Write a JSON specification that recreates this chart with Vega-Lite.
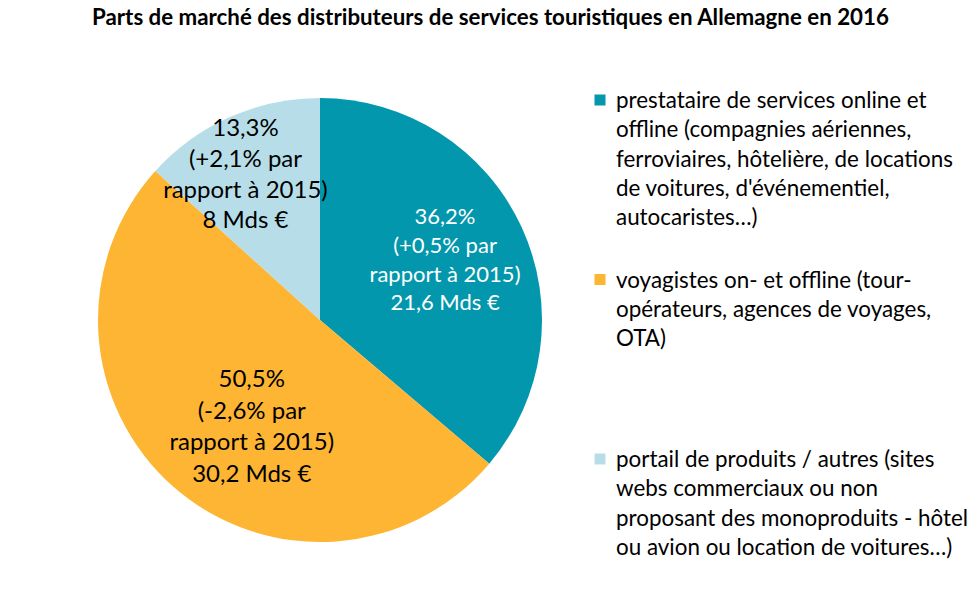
{
  "$schema": "https://vega.github.io/schema/vega-lite/v6.json",
  "background": "white",
  "padding": {"left": 92, "top": 6, "right": 0, "bottom": 0},
  "title": {
    "text": "Parts de marché des distributeurs de services touristiques en Allemagne en 2016",
    "font": "Lato",
    "fontSize": 22.3,
    "fontWeight": "bold",
    "color": "#000000",
    "anchor": "start",
    "dx": -6,
    "offset": 61
  },
  "config": {"view": {"stroke": null}, "concat": {"spacing": 52}},
  "data": {
    "values": [
      {"cat": "prestataire", "rang": 1, "part": 36.2,
       "etiquette": "36,2%\n(+0,5% par\nrapport à 2015)\n21,6 Mds €",
       "legende": "prestataire de services online et\noffline (compagnies aériennes,\nferroviaires, hôtelière, de locations\nde voitures, d'événementiel,\nautocaristes…)"},
      {"cat": "voyagistes", "rang": 2, "part": 50.5,
       "etiquette": "50,5%\n(-2,6% par\nrapport à 2015)\n30,2 Mds €",
       "legende": "voyagistes on- et offline (tour-\nopérateurs, agences de voyages,\nOTA)"},
      {"cat": "portail", "rang": 3, "part": 13.3,
       "etiquette": "13,3%\n(+2,1% par\nrapport à 2015)\n8 Mds €",
       "legende": "portail de produits / autres (sites\nwebs commerciaux ou non\nproposant des monoproduits - hôtel\nou avion ou location de voitures…)"}
    ]
  },
  "hconcat": [
    {
      "width": 444,
      "height": 444,
      "encoding": {
        "theta": {"field": "part", "type": "quantitative", "stack": true},
        "order": {"field": "rang", "type": "quantitative"}
      },
      "layer": [
        {
          "mark": {"type": "arc", "outerRadius": 222},
          "encoding": {
            "color": {
              "field": "cat", "type": "nominal",
              "scale": {"domain": ["prestataire", "voyagistes", "portail"], "range": ["#0397AD", "#FDB533", "#B7DEE8"]},
              "legend": null
            }
          }
        },
        {
          "mark": {"type": "text", "radius": 140, "dx": -2, "dy": -44, "font": "Lato", "fontSize": 22, "lineHeight": 28.7, "lineBreak": "\n", "align": "center", "baseline": "middle", "color": "white"},
          "encoding": {"text": {"condition": {"test": "datum.cat === 'prestataire'", "field": "etiquette"}, "value": ""}}
        },
        {
          "mark": {"type": "text", "radius": 140, "dx": 24, "dy": -45, "font": "Lato", "fontSize": 24, "lineHeight": 31.5, "lineBreak": "\n", "align": "center", "baseline": "middle", "color": "black"},
          "encoding": {"text": {"condition": {"test": "datum.cat === 'voyagistes'", "field": "etiquette"}, "value": ""}}
        },
        {
          "mark": {"type": "text", "radius": 164, "dx": -8, "dy": -41, "font": "Lato", "fontSize": 24, "lineHeight": 30.8, "lineBreak": "\n", "align": "center", "baseline": "middle", "color": "black"},
          "encoding": {"text": {"condition": {"test": "datum.cat === 'portail'", "field": "etiquette"}, "value": ""}}
        }
      ]
    },
    {
      "width": 10,
      "height": 538.5,
      "encoding": {
        "y": {"field": "cat", "type": "nominal", "sort": {"field": "rang"}, "bandPosition": 0,
              "scale": {"type": "band", "paddingInner": 0, "paddingOuter": 0}, "axis": null}
      },
      "layer": [
        {
          "mark": {"type": "point", "shape": "square", "filled": true, "size": 121, "opacity": 1, "yOffset": 2},
          "encoding": {"color": {"field": "cat", "type": "nominal", "legend": null}}
        },
        {
          "mark": {"type": "text", "align": "left", "baseline": "alphabetic", "dx": 16, "dy": 10, "font": "Lato", "fontSize": 22.4, "lineHeight": 29.3, "lineBreak": "\n", "color": "black"},
          "encoding": {"text": {"field": "legende"}}
        }
      ]
    }
  ]
}
